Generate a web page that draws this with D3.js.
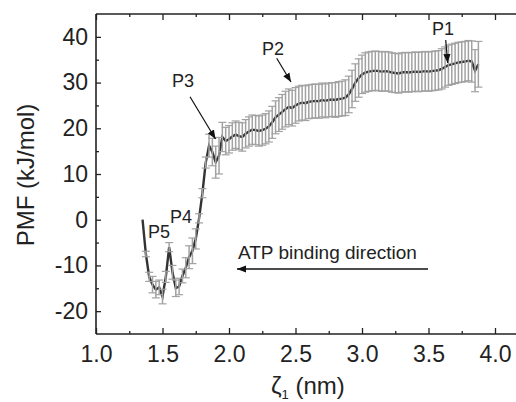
<!DOCTYPE html>
<html><head><meta charset="utf-8">
<script src="https://cdn.jsdelivr.net/npm/d3@7"></script>
<style>body{margin:0;background:#fff}svg{display:block}text{font-family:"Liberation Sans",Arial,sans-serif;fill:#222}</style>
</head><body><svg id="c" width="516" height="402"></svg>
<script>
const xVals = [1.350,1.375,1.400,1.425,1.450,1.475,1.500,1.525,1.550,1.575,1.600,1.625,1.650,1.675,1.700,1.725,1.750,1.775,1.800,1.825,1.850,1.875,1.900,1.925,1.950,1.975,2.000,2.025,2.050,2.075,2.100,2.125,2.150,2.175,2.200,2.225,2.250,2.275,2.300,2.325,2.350,2.375,2.400,2.425,2.450,2.475,2.500,2.525,2.550,2.575,2.600,2.625,2.650,2.675,2.700,2.725,2.750,2.775,2.800,2.825,2.850,2.875,2.900,2.925,2.950,2.975,3.000,3.025,3.050,3.075,3.100,3.125,3.150,3.175,3.200,3.225,3.250,3.275,3.300,3.325,3.350,3.375,3.400,3.425,3.450,3.475,3.500,3.525,3.550,3.575,3.600,3.625,3.650,3.675,3.700,3.725,3.750,3.775,3.800,3.825,3.850,3.875];
const pmf = [0.0,-7.5,-12.5,-14.2,-15.3,-14.8,-16.8,-12.5,-6.0,-11.5,-15.0,-14.6,-12.3,-10.5,-8.2,-6.8,-4.2,0.3,5.8,12.5,16.2,14.8,12.6,14.0,18.1,17.2,17.6,18.2,18.6,18.3,18.1,18.8,19.3,19.7,19.6,19.4,19.6,19.9,20.4,21.3,22.4,23.0,23.6,24.2,24.7,24.4,25.0,25.4,25.6,25.5,25.8,25.9,26.0,25.9,26.2,26.0,26.2,26.3,26.2,26.4,26.5,26.7,27.4,28.6,30.0,31.0,31.8,32.2,32.4,32.5,32.6,32.5,32.4,32.5,32.4,32.2,32.1,32.0,32.2,32.3,32.2,32.3,32.4,32.3,32.4,32.5,32.4,32.5,32.6,32.7,33.0,33.4,33.8,34.0,34.2,34.4,34.5,34.6,34.8,34.6,32.6,34.0];
const pmfErr = [0,0.6,1.0,1.8,1.8,1.6,1.6,1.2,1.0,1.5,1.8,1.8,1.5,2.2,2.5,2.8,2.2,1.0,1.0,1.2,2.5,3.0,3.5,4.0,3.2,3.0,3.0,3.0,3.0,3.0,3.1,3.1,3.2,3.2,3.2,3.3,3.3,3.3,3.4,3.5,3.6,3.7,3.8,3.9,3.9,3.9,3.9,3.8,3.8,3.8,3.7,3.7,3.7,3.7,3.7,3.7,3.7,3.7,3.8,3.8,3.8,3.9,4.0,4.1,4.1,4.2,4.2,4.3,4.3,4.3,4.3,4.3,4.3,4.3,4.3,4.3,4.3,4.3,4.3,4.3,4.3,4.3,4.3,4.3,4.3,4.3,4.3,4.3,4.3,4.3,4.4,4.4,4.4,4.4,4.4,4.4,4.4,4.4,4.4,4.5,4.6,5.0];
const xMajor = [1.0,1.5,2.0,2.5,3.0,3.5,4.0];
const xMinor = [1.25,1.75,2.25,2.75,3.25,3.75];
const yMajor = [-20,-10,0,10,20,30,40];
const yMinor = [-15,-5,5,15,25,35];
const peakLabels = ["P1","P2","P3","P4","P5"];
const peakPos = [[432,35],[262,55],[172,87],[170,223],[148,238]];
const peakArrows = [[[445.7,40],[447.7,63]],[[276.7,58.3],[291,82]],[[190,96.7],[215.5,139]]];

(function(){
const svg = d3.select("#c");
const L = 96, R = 495, T = 14, B = 334;
const x = d3.scaleLinear().domain([1.0, 4.0]).range([L, R]);
const y = d3.scaleLinear().domain([-25, 45]).range([B, T]);

svg.append("defs").append("marker").attr("id","ah").attr("viewBox","0 0 10 10")
  .attr("refX",10).attr("refY",5).attr("markerWidth",9).attr("markerHeight",9)
  .attr("markerUnits","userSpaceOnUse").attr("orient","auto")
  .append("path").attr("d","M0,1 L10,5 L0,9 Z").attr("fill","#111");

const data = xVals.map((v,i)=>({x:v,y:pmf[i],e:pmfErr[i]}));

svg.append("path").datum(data)
  .attr("d", d3.line().x(d=>x(d.x)).y(d=>y(d.y)))
  .attr("fill","none").attr("stroke","#333").attr("stroke-width",2.4);

const eb = svg.append("g").attr("stroke","#a2a2a2");
data.filter(d=>d.e>0).forEach(d=>{
  const cx = x(d.x), y1 = y(d.y + d.e), y2 = y(d.y - d.e);
  eb.append("line").attr("x1",cx).attr("x2",cx).attr("y1",y1).attr("y2",y2).attr("stroke-width",1.5);
  eb.append("line").attr("x1",cx-4).attr("x2",cx+4).attr("y1",y1).attr("y2",y1).attr("stroke-width",1.2);
  eb.append("line").attr("x1",cx-4).attr("x2",cx+4).attr("y1",y2).attr("y2",y2).attr("stroke-width",1.2);
});

const frame = "#222";
const ax = svg.append("g");
ax.append("line").attr("x1",L).attr("x2",530).attr("y1",B).attr("y2",B).attr("stroke",frame).attr("stroke-width",1.6);
ax.append("line").attr("x1",L).attr("x2",530).attr("y1",T).attr("y2",T).attr("stroke",frame).attr("stroke-width",1.6);
ax.append("line").attr("x1",L).attr("x2",L).attr("y1",T).attr("y2",B).attr("stroke",frame).attr("stroke-width",1.6);

function styleTicks(g){ g.select(".domain").remove(); g.selectAll(".tick line").attr("stroke",frame).attr("stroke-width",1.3); }

const axB = d3.axisBottom(x).tickValues(xMajor).tickSize(-6).tickFormat(d3.format(".1f"));
const gb = svg.append("g").attr("transform",`translate(0,${B})`).call(axB);
styleTicks(gb);
gb.selectAll(".tick text").attr("y",28).attr("dy",0).style("font-size","23px").attr("font-family",null).attr("fill","#222");
const gbm = svg.append("g").attr("transform",`translate(0,${B})`).call(d3.axisBottom(x).tickValues(xMinor).tickSize(-3).tickFormat(""));
styleTicks(gbm);

const gt = svg.append("g").attr("transform",`translate(0,${T})`).call(d3.axisTop(x).tickValues(xMajor).tickSize(-6).tickFormat(""));
styleTicks(gt);
const gtm = svg.append("g").attr("transform",`translate(0,${T})`).call(d3.axisTop(x).tickValues(xMinor).tickSize(-3).tickFormat(""));
styleTicks(gtm);

const axL = d3.axisLeft(y).tickValues(yMajor).tickSize(-5).tickFormat(d => String(d));
const gl = svg.append("g").attr("transform",`translate(${L},0)`).call(axL);
styleTicks(gl);
gl.selectAll(".tick text").attr("x",-8).style("font-size","23px").attr("font-family",null).attr("fill","#222");
const glm = svg.append("g").attr("transform",`translate(${L},0)`).call(d3.axisLeft(y).tickValues(yMinor).tickSize(-3).tickFormat(""));
styleTicks(glm);

svg.append("text").attr("transform","translate(33.5,175) rotate(-90)").attr("text-anchor","middle")
  .style("font-size","24px").text("PMF (kJ/mol)");
const xt = svg.append("text").attr("x",271).attr("y",394).style("font-size","24px");
xt.append("tspan").text("ζ");
xt.append("tspan").attr("dy",5).style("font-size","13px").text("1");
xt.append("tspan").attr("dy",-5).text(" (nm)");

peakLabels.forEach((p,i)=>{
  svg.append("text").attr("x",peakPos[i][0]).attr("y",peakPos[i][1]).style("font-size","18px").text(p);
});
peakArrows.forEach(a=>{
  svg.append("line").attr("x1",a[0][0]).attr("y1",a[0][1]).attr("x2",a[1][0]).attr("y2",a[1][1])
    .attr("stroke","#111").attr("stroke-width",1.2).attr("marker-end","url(#ah)");
});
svg.append("text").attr("x",238).attr("y",259).style("font-size","19px").text("ATP binding direction");
svg.append("line").attr("x1",428).attr("y1",269).attr("x2",237).attr("y2",269)
  .attr("stroke","#111").attr("stroke-width",1.6).attr("marker-end","url(#ah)");
})();
</script></body></html>
